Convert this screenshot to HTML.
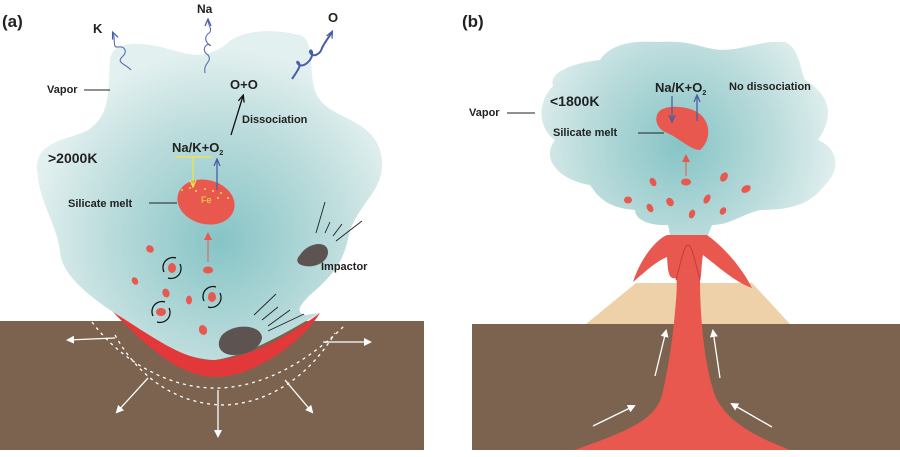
<!DOCTYPE html>
<html><head><meta charset="utf-8"><style>
body{margin:0;background:#fff}
svg text{font-family:"Liberation Sans",Arial,sans-serif;font-weight:bold;fill:#222}
</style></head><body>
<svg width="900" height="452" viewBox="0 0 900 452" xmlns="http://www.w3.org/2000/svg">
<defs>
<radialGradient id="ga" cx="220" cy="240" r="190" gradientUnits="userSpaceOnUse">
<stop offset="0" stop-color="#86c4c6"/><stop offset="0.6" stop-color="#bcdcdc"/><stop offset="1" stop-color="#e2f0ef"/></radialGradient>
<radialGradient id="gb" cx="680" cy="145" r="160" gradientUnits="userSpaceOnUse">
<stop offset="0" stop-color="#86c4c6"/><stop offset="0.6" stop-color="#bcdcdc"/><stop offset="1" stop-color="#e2f0ef"/></radialGradient>
<marker id="aw" markerWidth="8" markerHeight="8" refX="6" refY="4" orient="auto" markerUnits="userSpaceOnUse"><path d="M0,0 L8,4 L0,8 z" fill="#fff"/></marker>
<marker id="ak" markerWidth="8" markerHeight="8" refX="6" refY="4" orient="auto" markerUnits="userSpaceOnUse"><path d="M0,1 L7,4 L0,7" fill="none" stroke="#111" stroke-width="1.3"/></marker>
<marker id="ab" markerWidth="8" markerHeight="8" refX="6" refY="4" orient="auto" markerUnits="userSpaceOnUse"><path d="M0,1 L7,4 L0,7" fill="none" stroke="#4a5ea8" stroke-width="1.3"/></marker>
<marker id="ar" markerWidth="8" markerHeight="8" refX="6" refY="4" orient="auto" markerUnits="userSpaceOnUse"><path d="M0,0 L8,4 L0,8 z" fill="#e8584f"/></marker>
<marker id="ay" markerWidth="8" markerHeight="8" refX="6" refY="4" orient="auto" markerUnits="userSpaceOnUse"><path d="M0,1 L7,4 L0,7" fill="none" stroke="#f2e24a" stroke-width="1.3"/></marker>
</defs>

<rect x="0" y="321" width="424" height="129" fill="#7b6350"/>
<path d="M113,312 C80,290 60,270 60,250 C55,220 40,205 37,170 C35,140 70,140 88,130 C110,115 108,95 110,60 C112,40 140,42 165,48 C190,55 205,60 225,45 C240,30 270,28 300,35 C318,42 305,80 320,100 C335,120 378,120 382,160 C384,190 362,200 350,230 C345,255 340,270 310,295 C300,305 295,312 305,315 L320,313 C290,330 250,355 215,360 C185,360 150,340 113,312 z" fill="url(#ga)"/>
<path d="M113,312 C150,335 185,362 215,360 C250,358 290,335 320,313 C300,345 250,378 215,377 C180,376 150,350 113,312 z" fill="#e2383a"/>
<path d="M92,322 C120,360 170,390 220,388 C270,386 315,355 345,325" fill="none" stroke="#fff" stroke-width="1.3" stroke-dasharray="3,4"/>
<path d="M115,335 C140,380 180,405 225,405 C270,403 310,375 335,333" fill="none" stroke="#fff" stroke-width="1.3" stroke-dasharray="3,4"/>
<g stroke="#fff" stroke-width="1.3" fill="none" marker-end="url(#aw)">
<line x1="115" y1="338" x2="68" y2="340"/>
<line x1="323" y1="342" x2="370" y2="342"/>
<line x1="148" y1="378" x2="117" y2="412"/>
<line x1="285" y1="380" x2="312" y2="412"/>
<line x1="218" y1="390" x2="218" y2="436"/>
</g>
<path d="M222,335 C235,322 262,325 262,338 C260,350 245,355 232,355 C220,354 215,345 222,335 z" fill="#5d5452"/>
<path d="M300,255 C308,242 328,240 328,252 C328,262 315,268 305,266 C297,265 295,260 300,255 z" fill="#5d5452"/>
<g stroke="#222" stroke-width="0.9">
<line x1="254" y1="315" x2="276" y2="294"/><line x1="262" y1="320" x2="278" y2="307"/><line x1="268" y1="326" x2="290" y2="310"/><line x1="268" y1="331" x2="304" y2="314"/>
<line x1="316" y1="233" x2="325" y2="202"/><line x1="325" y1="233" x2="330" y2="222"/><line x1="333" y1="236" x2="342" y2="224"/><line x1="336" y1="241" x2="362" y2="221"/>
</g>
<g fill="#e8584f">
<ellipse cx="150" cy="249" rx="4" ry="3.5" transform="rotate(40 150 249)"/>
<ellipse cx="172" cy="268" rx="4" ry="5"/>
<ellipse cx="208" cy="270" rx="5" ry="3.5"/>
<ellipse cx="135" cy="281" rx="3" ry="4" transform="rotate(-30 135 281)"/>
<ellipse cx="166" cy="293" rx="3.5" ry="4.5" transform="rotate(-20 166 293)"/>
<ellipse cx="189" cy="300" rx="3" ry="4.5"/>
<ellipse cx="212" cy="297" rx="4" ry="5"/>
<ellipse cx="161" cy="312" rx="5" ry="4"/>
<ellipse cx="203" cy="330" rx="4" ry="5" transform="rotate(-20 203 330)"/>
</g>
<g fill="none" stroke="#111" stroke-width="1.2">
<path d="M164,272 A10,10 0 0 1 176,258"/><path d="M180,264 A10,10 0 0 1 168,278"/>
<path d="M204,301 A10,10 0 0 1 216,287"/><path d="M220,293 A10,10 0 0 1 208,307"/>
<path d="M153,316 A10,10 0 0 1 165,302"/><path d="M169,308 A10,10 0 0 1 157,322"/>
</g>
<ellipse cx="206" cy="202" rx="29" ry="22" transform="rotate(15 206 202)" fill="#e8584f"/>
<g fill="#f2e24a"><circle cx="182" cy="190" r="1"/><circle cx="190" cy="188" r="1"/><circle cx="196" cy="191" r="1"/><circle cx="205" cy="189" r="1"/><circle cx="213" cy="191" r="1"/><circle cx="221" cy="193" r="1"/><circle cx="228" cy="198" r="1"/><circle cx="218" cy="198" r="1"/></g>
<text x="201" y="203" font-size="9" style="fill:#f2e24a;font-weight:normal">Fe</text>
<line x1="208" y1="262" x2="208" y2="234" stroke="#e8584f" stroke-width="1" marker-end="url(#ar)"/>
<line x1="175" y1="157" x2="212" y2="157" stroke="#f2e24a" stroke-width="1.3"/>
<line x1="193" y1="157" x2="193" y2="186" stroke="#f2e24a" stroke-width="1.3" marker-end="url(#ay)"/>
<line x1="217" y1="190" x2="217" y2="160" stroke="#4a5ea8" stroke-width="1.3" marker-end="url(#ab)"/>
<line x1="231" y1="135" x2="243" y2="96" stroke="#111" stroke-width="1.3" marker-end="url(#ak)"/>
<text x="2" y="27" font-size="17">(a)</text>
<text x="93" y="33" font-size="13">K</text>
<text x="197" y="13" font-size="12">Na</text>
<text x="328" y="22" font-size="13">O</text>
<text x="230" y="89" font-size="13">O+O</text>
<text x="242" y="123" font-size="11">Dissociation</text>
<text x="172" y="152" font-size="13">Na/K+O<tspan font-size="7" dy="3">2</tspan></text>
<text x="48" y="163" font-size="14">&gt;2000K</text>
<text x="47" y="93" font-size="11">Vapor</text>
<line x1="84" y1="90" x2="110" y2="90" stroke="#222" stroke-width="0.9"/>
<text x="68" y="207" font-size="11">Silicate melt</text>
<line x1="149" y1="203" x2="177" y2="203" stroke="#222" stroke-width="0.9"/>
<text x="321" y="270" font-size="11">Impactor</text>
<path d="M131,70 C126,64 116,63 122,57 C128,52 125,46 118,47 C112,48 116,40 113,33" fill="none" stroke="#5a6fb0" stroke-width="1.1" marker-end="url(#ab)"/>
<path d="M205,73 C203,62 213,62 208,55 C200,50 207,42 210,45 C213,48 200,40 209,33 C213,30 208,25 208,20" fill="none" stroke="#5a6fb0" stroke-width="1.1" marker-end="url(#ab)"/>
<path d="M292,79 C298,70 302,65 298,62 C295,60 300,72 310,60 C315,52 310,48 310,52 C312,58 320,55 322,48 C326,40 330,36 332,32" fill="none" stroke="#4a5ea8" stroke-width="2" marker-end="url(#ab)"/>

<!-- Panel b -->
<path d="M553,86 C548,70 580,62 600,60 C610,45 630,40 660,42 C690,40 700,48 720,50 C745,50 760,40 785,42 C800,48 800,70 805,80 C830,95 835,115 818,140 C840,150 840,170 825,185 C810,205 790,210 760,210 C740,215 730,225 712,225 L708,235 L670,235 L668,225 C650,226 635,220 635,210 C610,208 600,200 590,185 C560,180 540,160 555,140 C540,130 535,105 553,86 z" fill="url(#gb)"/>
<rect x="472" y="324" width="428" height="126" fill="#7b6350"/>
<path d="M586,324 L636,283 L752,283 L790,324 z" fill="#eed1a9"/>
<path d="M575,450 C630,430 655,420 662,395 C668,370 673,340 676,300 C677,290 677,280 676,278 C668,280 668,270 667,257 C655,262 645,272 633,282 C640,260 655,240 667,235 L707,235 C725,248 742,268 752,288 C735,282 720,268 703,255 C701,265 702,275 700,280 C700,320 705,370 716,398 C730,425 760,438 790,450 z" fill="#e8584f"/>
<path d="M676,280 C680,265 684,245 688,245 C692,245 696,265 700,280" fill="none" stroke="#c93a36" stroke-width="1"/>
<g stroke="#fff" stroke-width="1.3" fill="none" marker-end="url(#aw)">
<line x1="655" y1="376" x2="666" y2="331"/>
<line x1="720" y1="378" x2="713" y2="331"/>
<line x1="593" y1="426" x2="634" y2="406"/>
<line x1="772" y1="427" x2="732" y2="404"/>
</g>
<g fill="#e8584f">
<ellipse cx="653" cy="182" rx="3" ry="4.5" transform="rotate(-30 653 182)"/>
<ellipse cx="686" cy="182" rx="5" ry="3.5"/>
<ellipse cx="724" cy="177" rx="3.5" ry="5" transform="rotate(30 724 177)"/>
<ellipse cx="746" cy="189" rx="5" ry="3.5" transform="rotate(-30 746 189)"/>
<ellipse cx="628" cy="200" rx="4" ry="3.5"/>
<ellipse cx="650" cy="208" rx="3" ry="4.5" transform="rotate(-30 650 208)"/>
<ellipse cx="670" cy="202" rx="3.5" ry="4.5" transform="rotate(-30 670 202)"/>
<ellipse cx="707" cy="199" rx="3" ry="5" transform="rotate(30 707 199)"/>
<ellipse cx="692" cy="214" rx="3" ry="4.5" transform="rotate(20 692 214)"/>
<ellipse cx="723" cy="211" rx="3" ry="4" transform="rotate(30 723 211)"/>
</g>
<path d="M657,115 C660,105 680,105 693,110 C712,118 712,140 700,150 C690,150 680,138 665,132 C657,128 655,120 657,115 z" fill="#e8584f"/>
<line x1="686" y1="176" x2="686" y2="156" stroke="#e8584f" stroke-width="1" marker-end="url(#ar)"/>
<line x1="672" y1="96" x2="672" y2="121" stroke="#4a5ea8" stroke-width="1.3" marker-end="url(#ab)"/>
<line x1="697" y1="121" x2="697" y2="96" stroke="#4a5ea8" stroke-width="1.3" marker-end="url(#ab)"/>
<text x="462" y="27" font-size="17">(b)</text>
<text x="655" y="92" font-size="13">Na/K+O<tspan font-size="7" dy="3">2</tspan></text>
<text x="729" y="90" font-size="11">No dissociation</text>
<text x="550" y="106" font-size="14">&lt;1800K</text>
<text x="469" y="116" font-size="11">Vapor</text>
<line x1="507" y1="113" x2="535" y2="113" stroke="#222" stroke-width="0.9"/>
<text x="553" y="136" font-size="11">Silicate melt</text>
<line x1="638" y1="133" x2="664" y2="133" stroke="#222" stroke-width="0.9"/>
</svg>
</body></html>
